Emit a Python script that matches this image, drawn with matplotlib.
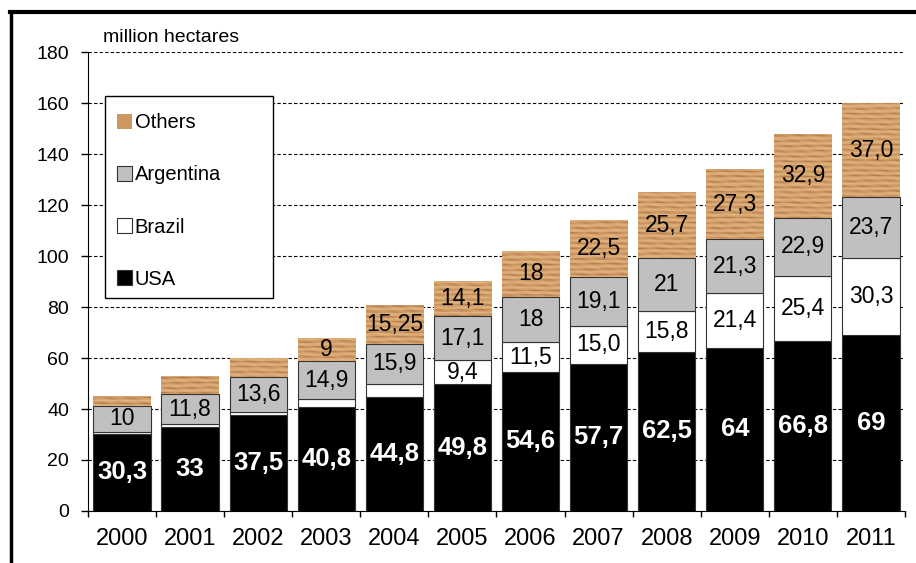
import numpy as np
import matplotlib.pyplot as plt
from matplotlib.colors import LinearSegmentedColormap
from matplotlib.patches import Rectangle
from matplotlib.lines import Line2D

plt.rcParams['font.family'] = ['Liberation Sans', 'DejaVu Sans']

years = ['2000', '2001', '2002', '2003', '2004', '2005',
         '2006', '2007', '2008', '2009', '2010', '2011']
usa = [30.3, 33, 37.5, 40.8, 44.8, 49.8, 54.6, 57.7, 62.5, 64, 66.8, 69]
brazil = [0.8, 1.0, 1.3, 3.0, 5.0, 9.4, 11.5, 15.0, 15.8, 21.4, 25.4, 30.3]
argentina = [10, 11.8, 13.6, 14.9, 15.9, 17.1, 18, 19.1, 21, 21.3, 22.9, 23.7]
others = [4.0, 7.0, 7.6, 9, 15.25, 14.1, 18, 22.5, 25.7, 27.3, 32.9, 37.0]

usa_lbl = ['30,3', '33', '37,5', '40,8', '44,8', '49,8', '54,6', '57,7', '62,5', '64', '66,8', '69']
brazil_lbl = ['', '', '', '', '', '9,4', '11,5', '15,0', '15,8', '21,4', '25,4', '30,3']
argentina_lbl = ['10', '11,8', '13,6', '14,9', '15,9', '17,1', '18', '19,1', '21', '21,3', '22,9', '23,7']
others_lbl = ['', '', '', '9', '15,25', '14,1', '18', '22,5', '25,7', '27,3', '32,9', '37,0']

wood_col = '#cc9862'
wood_cmap = LinearSegmentedColormap.from_list('wood', ['#a36a3a', '#c99461', '#d9a872', '#e2b47e'])

fig = plt.figure(figsize=(9.16, 5.63), dpi=100)
ax = fig.add_axes([0.096, 0.0924, 0.892, 0.815])

x = np.arange(len(years))
w = 0.84
b1 = np.array(usa)
b2 = b1 + np.array(brazil)
b3 = b2 + np.array(argentina)

ax.bar(x, usa, w, color='black', edgecolor='#333333', linewidth=0.8, zorder=3, label='USA')
ax.bar(x, brazil, w, bottom=b1, color='white', edgecolor='#333333', linewidth=0.8, zorder=3, label='Brazil')
ax.bar(x, argentina, w, bottom=b2, color='#c0c0c0', edgecolor='#333333', linewidth=0.8, zorder=3, label='Argentina')
obars = ax.bar(x, others, w, bottom=b3, color=wood_col, linewidth=0, zorder=3, label='Others')

# wood grain texture on the "Others" bars (mostly horizontal streaks)
for rect in obars:
    x0, y0 = rect.get_x(), rect.get_y()
    bw, bh = rect.get_width(), rect.get_height()
    yy, xx = np.mgrid[y0:y0 + bh:complex(0, max(int(bh * 4), 4)), 0:1:60j]
    grain = (np.sin(yy * 3.1 + 0.35 * np.sin(xx * 5 + yy * 0.4))
             + 0.5 * np.sin(yy * 7.3 + xx * 1.5)
             + 0.3 * np.cos(xx * 17 + yy * 2.1))
    grain = np.clip(grain + 0.8, -1.5, 2.0)
    im = ax.imshow(grain, extent=(x0, x0 + bw, y0, y0 + bh), origin='lower',
                   cmap=wood_cmap, aspect='auto', zorder=3.5, interpolation='bilinear')
    im.set_clip_path(rect)

for i in range(len(years)):
    ax.text(x[i], usa[i] / 2, usa_lbl[i], ha='center', va='center',
            color='white', fontsize=18.5, fontweight='bold', zorder=5)
    if brazil_lbl[i]:
        ax.text(x[i], b1[i] + brazil[i] / 2, brazil_lbl[i], ha='center', va='center',
                fontsize=16.5, zorder=5)
    ax.text(x[i], b2[i] + argentina[i] / 2, argentina_lbl[i], ha='center', va='center',
            fontsize=16.5, zorder=5)
    if others_lbl[i]:
        ax.text(x[i], b3[i] + others[i] / 2, others_lbl[i], ha='center', va='center',
                fontsize=16.5, zorder=5)

ax.set_xlim(-0.5, len(years) - 0.5)
ax.set_ylim(0, 180)
ax.set_yticks(range(0, 181, 20))
ax.yaxis.grid(True, color='black', linestyle=(0, (3, 2)), linewidth=0.8)
ax.set_axisbelow(True)
ax.tick_params(axis='y', labelsize=14, length=5, pad=8.5, width=1)

ax.set_xticks(x)
ax.set_xticklabels(years)
ax.set_xticks(np.arange(-0.5, len(years), 1), minor=True)
ax.tick_params(axis='x', which='major', length=0, labelsize=17, pad=12)
ax.tick_params(axis='x', which='minor', length=4, width=1)

for s in ['top', 'right']:
    ax.spines[s].set_visible(False)

ax.text(0.018, 1.032, 'million hectares', transform=ax.transAxes, fontsize=14,
        ha='left', va='center')

# legend box
box = Rectangle((0.021, 0.465), 0.205, 0.44, transform=ax.transAxes,
                facecolor='white', edgecolor='black', linewidth=1, zorder=6)
ax.add_patch(box)
handles, labels = ax.get_legend_handles_labels()
leg = ax.legend(handles[::-1], labels[::-1], loc='upper left',
                bbox_to_anchor=(0.035, 0.867), frameon=False, fontsize=14.5,
                handlelength=0.75, handleheight=0.75, handletextpad=0.15,
                labelspacing=1.65, borderaxespad=0, borderpad=0)
leg.set_zorder(7)

# outer frame
fig.add_artist(Line2D([0.011, 1.0], [0.979, 0.979], color='black', linewidth=3))
fig.add_artist(Line2D([0.012, 0.012], [0.0, 0.979], color='black', linewidth=2.5))

fig.savefig('out.png', dpi=100)
